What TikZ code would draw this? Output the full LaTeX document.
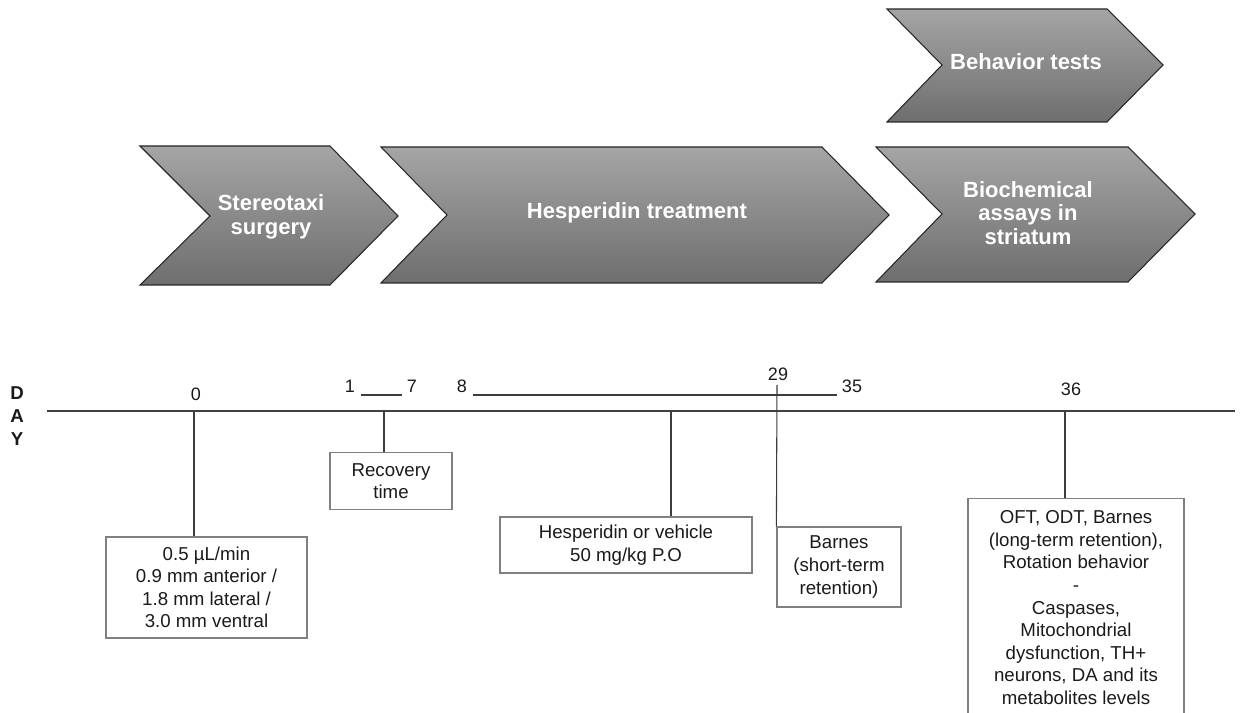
\documentclass[tikz,border=0pt]{standalone}
\usepackage{fontspec}
\setmainfont{Liberation Sans}
\definecolor{chevtop}{RGB}{165,165,165}
\definecolor{chevmid}{RGB}{135,135,135}
\definecolor{chevbot}{RGB}{110,110,110}
\definecolor{chevedge}{RGB}{40,40,40}
\definecolor{boxedge}{RGB}{128,128,128}
\definecolor{txt}{RGB}{26,26,26}
\definecolor{axiscol}{RGB}{64,64,64}
\begin{document}
\begin{tikzpicture}[x=0.75pt,y=-0.75pt,
  chev/.style={draw=chevedge, line width=0.8pt, top color=chevtop, middle color=chevmid, bottom color=chevbot, line join=miter},
  chevtext/.style={text=white, font=\fontsize{16.5}{17.5}\selectfont\bfseries, align=center, inner sep=0pt},
  infobox/.style={draw=boxedge, line width=0.9pt, text=txt, font=\fontsize{14}{16.9}\selectfont, align=center, inner sep=0pt},
  daylbl/.style={text=txt, font=\fontsize{13.5}{16}\selectfont, inner sep=0pt},
  axisline/.style={draw=axiscol, line width=1pt},
  link/.style={draw=txt!85, line width=0.8pt},
]
\useasboundingbox (0,0) rectangle (1240,713);

% chevrons
\path[chev] (140,146) -- (330,146) -- (398,216) -- (330,285) -- (140,285) -- (210,216) -- cycle;
\node[chevtext] (cs) at (271,217) {Stereotaxi\\surgery};
\path[chev] (381,147) -- (822,147) -- (889,215) -- (822,283) -- (381,283) -- (447,215) -- cycle;
\node[chevtext] (ch) at (637,213) {Hesperidin treatment};
\path[chev] (876,147) -- (1128,147) -- (1195,214) -- (1128,282) -- (876,282) -- (942,214) -- cycle;
\node[chevtext] (cb) at (1028,213) {Biochemical\\assays in\\striatum};
\path[chev] (887,9) -- (1107,9) -- (1163,65) -- (1107,122) -- (887,122) -- (942,65) -- cycle;
\node[chevtext] (cbt) at (1026,62) {Behavior tests};

% axis
\coordinate (axL) at (47,411);
\coordinate (axR) at (1235,411);
\draw[axisline] (axL) -- (axR);
\node[text=txt, font=\fontsize{14}{17}\selectfont\bfseries, align=center, inner sep=0pt] (day) at (17,416) {D\\A\\Y};

% day labels
\node[daylbl] (n0) at (196,394) {0};
\node[daylbl] (n1) at (350,386) {1};
\node[daylbl] (n7) at (412,386) {7};
\node[daylbl] (n8) at (462,386) {8};
\node[daylbl] (n35) at (852,386) {35};
\node[daylbl] (n29) at (778,374) {29};
\node[daylbl] (n36) at (1071,389) {36};
\coordinate (r1a) at (361,395);
\coordinate (r1b) at (402,395);
\coordinate (r8a) at (473,395);
\coordinate (r8b) at (837,395);
\draw[link] (r1a) -- (r1b);
\draw[link] (r8a) -- (r8b);

% boxes
\node[infobox, minimum width=150.75pt, minimum height=75.75pt] (b0) at (206.5,587.5) {0.5 µL/min\\0.9 mm anterior /\\1.8 mm lateral /\\3.0 mm ventral};
\node[infobox, minimum width=91.5pt, minimum height=42.75pt] (brec) at (391,481) {Recovery\\time};
\node[infobox, minimum width=189pt, minimum height=42pt] (bhes) at (626,545) {Hesperidin or vehicle\\50 mg/kg P.O};
\node[infobox, minimum width=93pt, minimum height=60pt] (bbar) at (839,567) {Barnes\\(short-term\\retention)};
\node[infobox, minimum width=162pt, minimum height=163.5pt, anchor=north] (boft) at (1076,498) {OFT, ODT, Barnes\\(long-term retention),\\Rotation behavior\\-\\Caspases,\\Mitochondrial\\dysfunction, TH+\\neurons, DA and its\\metabolites levels};

% connectors
\coordinate (t0) at (194,411);
\coordinate (trec) at (384,411);
\coordinate (thes) at (671,411);
\coordinate (t29) at (777,385);
\coordinate (t36) at (1065,411);
\draw[link] (t0) -- (t0 |- b0.north);
\draw[link] (trec) -- (trec |- brec.north);
\draw[link] (thes) -- (thes |- bhes.north);
\draw[link] (t29) -- (bbar.north west);
\draw[link] (t36) -- (t36 |- boft.north);
\end{tikzpicture}
\end{document}
